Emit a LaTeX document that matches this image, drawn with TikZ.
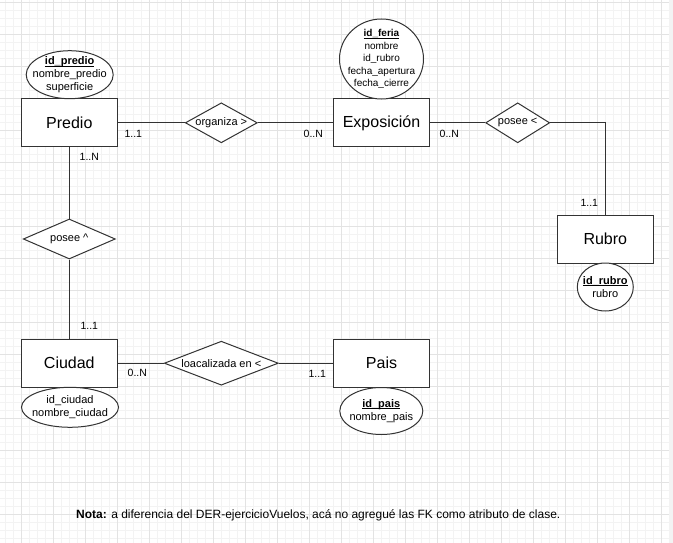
\documentclass[tikz,border=0pt]{standalone}
\usepackage{fontspec}
\setmainfont{Liberation Sans}
\usetikzlibrary{shapes.geometric}
\definecolor{linec}{HTML}{333333}
\definecolor{gridmaj}{HTML}{E3E3E3}
\definecolor{gridmin}{HTML}{F3F3F3}
\newcommand\pkul[1]{\setbox0\hbox{#1}\rlap{\rule[-1.8pt]{\wd0}{0.9pt}}\box0}
\begin{document}
\begin{tikzpicture}[x=1pt,y=-1pt,
  entity/.style={draw=linec, line width=1pt, fill=white, rectangle, minimum width=96pt, minimum height=48pt, inner sep=0pt, font=\fontsize{16}{19}\selectfont},
  rel/.style={draw=linec, line width=1pt, fill=white, diamond, inner sep=0pt},
  attr/.style={draw=linec, line width=1pt, fill=white, ellipse, inner sep=0pt},
  reltext/.style={inner sep=0pt, font=\fontsize{11}{13}\selectfont},
  attrtext/.style={inner sep=0pt, align=center, font=\fontsize{11}{12.7}\selectfont},
  attrtexts/.style={inner sep=0pt, align=center, font=\fontsize{10}{12.5}\selectfont},
  card/.style={inner sep=0pt, font=\fontsize{10.5}{12}\selectfont},
  conn/.style={draw=linec, line width=1pt},
  gmin/.style={draw=gridmin, line width=1pt},
  gmaj/.style={draw=gridmaj, line width=1pt}
]
\useasboundingbox (0,0) rectangle (673,543);
\fill[white] (0,0) rectangle (673,543);
% grid
\foreach \i in {0,...,82} { \draw[gmin] ({5.5+8*\i},0) -- ({5.5+8*\i},543); }
\foreach \i in {0,...,67} { \draw[gmin] (0,{2.5+8*\i}) -- (669,{2.5+8*\i}); }
\foreach \i in {0,...,20} { \draw[gmaj] ({21.5+32*\i},0) -- ({21.5+32*\i},543); }
\foreach \i in {0,...,16} { \draw[gmaj] (0,{2.5+32*\i}) -- (669,{2.5+32*\i}); }
\fill[gridmin] (669,0) rectangle (673,543);

% entities
\node[entity] (predio) at (69.3,122.8) {Predio};
\node[entity] (expo) at (381.5,122.8) {Exposición};
\node[entity] (rubro) at (605.3,239) {Rubro};
\node[entity] (ciudad) at (69.3,363.2) {Ciudad};
\node[entity] (pais) at (381.5,363.2) {Pais};

% relationships
\node[rel, minimum width=72pt, minimum height=40pt] (org) at (221.3,122.8) {};
\node[reltext] (org-t) at (org.center) {organiza >};
\node[rel, minimum width=64pt, minimum height=40pt] (pos1) at (517.7,122.8) {};
\node[reltext] (pos1-t) at (pos1.center) {posee <};
\node[rel, minimum width=92pt, minimum height=40pt] (pos2) at (69.3,239) {};
\node[reltext] (pos2-t) at (pos2.center) {posee \^{}};
\node[rel, minimum width=114pt, minimum height=44pt] (loc) at (221.3,363.2) {};
\node[reltext] (loc-t) at (loc.center) {loacalizada en <};

% connectors
\draw[conn] (predio.east) -- (org.west);
\draw[conn] (org.east) -- (expo.west);
\draw[conn] (expo.east) -- (pos1.west);
\draw[conn] (pos1.east) -| (rubro.north);
\draw[conn] (predio.south) -- (pos2.north);
\draw[conn] (pos2.south) -- (ciudad.north);
\draw[conn] (ciudad.east) -- (loc.west);
\draw[conn] (loc.east) -- (pais.west);

% attributes
\node[attr, minimum width=87pt, minimum height=48pt] (apredio) at (69.7,74.7) {};
\node[attrtext] (apredio-t) at (apredio.center)
  {\pkul{\textbf{id\_predio}}\\nombre\_predio\\superficie};
\node[attr, minimum width=84pt, minimum height=80pt] (aexpo) at (381.5,59) {};
\node[attrtexts] (aexpo-t) at (aexpo.center)
  {\pkul{\textbf{id\_feria}}\\nombre\\id\_rubro\\fecha\_apertura\\fecha\_cierre};
\node[attr, minimum width=56pt, minimum height=48pt] (arubro) at (605.3,287) {};
\node[attrtext] (arubro-t) at (arubro.center)
  {\pkul{\textbf{id\_rubro}}\\rubro};
\node[attr, minimum width=97pt, minimum height=40pt] (aciudad) at (70,407.3) {};
\node[attrtext] (aciudad-t) at (aciudad.center)
  {id\_ciudad\\nombre\_ciudad};
\node[attr, minimum width=83pt, minimum height=47pt] (apais) at (381.3,411) {};
\node[attrtext] (apais-t) at (apais.center)
  {\pkul{\textbf{id\_pais}}\\nombre\_pais};

% cardinalities
\node[card] (c1) at (133.3,133.7) {1..1};
\node[card] (c2) at (313.3,133.7) {0..N};
\node[card] (c3) at (449.3,133.7) {0..N};
\node[card] (c4) at (589.3,202.7) {1..1};
\node[card] (c5) at (89.3,157.3) {1..N};
\node[card] (c6) at (89.3,326) {1..1};
\node[card] (c7) at (137.3,373.3) {0..N};
\node[card] (c8) at (317.3,374.3) {1..1};

\node[inner sep=0pt, font=\fontsize{12}{14}\selectfont] (nota) at (318.3,515)
  {\textbf{Nota:} a diferencia del DER-ejercicioVuelos, acá no agregué las FK como atributo de clase.};
\end{tikzpicture}
\end{document}
